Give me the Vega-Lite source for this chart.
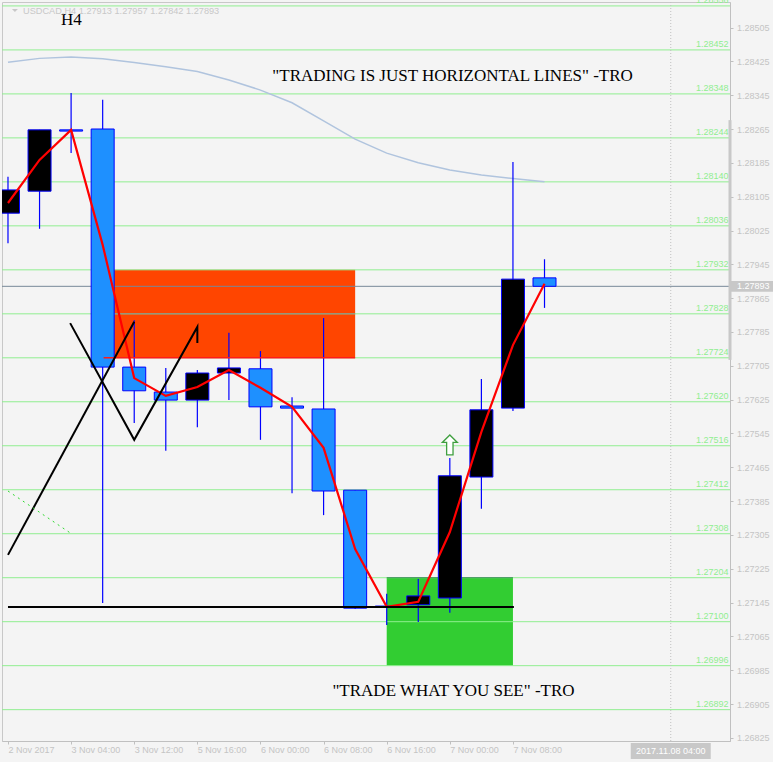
{
  "$schema": "https://vega.github.io/schema/vega-lite/v6.json",
  "width": 728,
  "height": 739,
  "autosize": {"type": "none"},
  "padding": {"left": 2, "top": 2, "right": 43, "bottom": 21},
  "background": "#f4f4f4",
  "config": {
    "view": {"stroke": "#c8c8c8"},
    "axisX": {"grid": false, "domainColor": "#c0c0c0", "tickColor": "#c0c0c0", "tickSize": 3,
      "labelAlign": "left", "labelBaseline": "top", "labelPadding": 1, "labelFont": "Liberation Sans",
      "labelFontSize": 9, "labelColor": "#c4c4c4", "labelFlush": false, "labelOverlap": false, "labelBound": false},
    "axisY": {"grid": false, "domainColor": "#c0c0c0", "tickColor": "#c0c0c0", "tickSize": 3,
      "labelPadding": 3.5, "labelFont": "Liberation Sans", "labelFontSize": 9, "labelColor": "#c4c4c4",
      "labelBaseline": "middle", "labelOverlap": false, "labelBound": false, "labelFlush": false}
  },
  "datasets": {
    "candles": [
      {"i": 0, "o": 1.28066, "h": 1.28152, "l": 1.27995, "c": 1.28121},
      {"i": 1, "o": 1.28118, "h": 1.28263, "l": 1.28029, "c": 1.28263},
      {"i": 2, "o": 1.28263, "h": 1.28350, "l": 1.28208, "c": 1.28260},
      {"i": 3, "o": 1.28265, "h": 1.28334, "l": 1.27144, "c": 1.27702},
      {"i": 4, "o": 1.27702, "h": 1.27813, "l": 1.27570, "c": 1.27646},
      {"i": 5, "o": 1.27643, "h": 1.27700, "l": 1.27504, "c": 1.27624},
      {"i": 6, "o": 1.27624, "h": 1.27695, "l": 1.27560, "c": 1.27688},
      {"i": 7, "o": 1.27688, "h": 1.27783, "l": 1.27624, "c": 1.27700},
      {"i": 8, "o": 1.27698, "h": 1.27740, "l": 1.27530, "c": 1.27608},
      {"i": 9, "o": 1.27610, "h": 1.27631, "l": 1.27404, "c": 1.27605},
      {"i": 10, "o": 1.27603, "h": 1.27818, "l": 1.27352, "c": 1.27409},
      {"i": 11, "o": 1.27411, "h": 1.27411, "l": 1.27130, "c": 1.27132},
      {"i": 12, "o": 1.27137, "h": 1.27166, "l": 1.27092, "c": 1.27135},
      {"i": 13, "o": 1.27140, "h": 1.27201, "l": 1.27099, "c": 1.27161},
      {"i": 14, "o": 1.27156, "h": 1.27487, "l": 1.27121, "c": 1.27445},
      {"i": 15, "o": 1.27442, "h": 1.27674, "l": 1.27367, "c": 1.27601},
      {"i": 16, "o": 1.27605, "h": 1.28187, "l": 1.27598, "c": 1.27910},
      {"i": 17, "o": 1.27913, "h": 1.27957, "l": 1.27842, "c": 1.27893}
    ],
    "fast": [
      {"i": 0, "p": 1.28090}, {"i": 1, "p": 1.28192}, {"i": 2, "p": 1.28263},
      {"i": 3, "p": 1.27991}, {"i": 4, "p": 1.27676}, {"i": 5, "p": 1.27634},
      {"i": 6, "p": 1.27655}, {"i": 7, "p": 1.27695}, {"i": 8, "p": 1.27653},
      {"i": 9, "p": 1.27608}, {"i": 10, "p": 1.27511}, {"i": 11, "p": 1.27272},
      {"i": 12, "p": 1.27135}, {"i": 13, "p": 1.27147}, {"i": 14, "p": 1.27312},
      {"i": 15, "p": 1.27549}, {"i": 16, "p": 1.27754}, {"i": 17, "p": 1.27899}
    ],
    "slow": [
      {"i": 0, "p": 1.28423}, {"i": 1, "p": 1.28432}, {"i": 2, "p": 1.28435},
      {"i": 3, "p": 1.28431}, {"i": 4, "p": 1.28422}, {"i": 5, "p": 1.28412},
      {"i": 6, "p": 1.28401}, {"i": 7, "p": 1.28381}, {"i": 8, "p": 1.28357},
      {"i": 9, "p": 1.28327}, {"i": 10, "p": 1.28284}, {"i": 11, "p": 1.28241},
      {"i": 12, "p": 1.28208}, {"i": 13, "p": 1.28185}, {"i": 14, "p": 1.28168},
      {"i": 15, "p": 1.28156}, {"i": 16, "p": 1.28148}, {"i": 17, "p": 1.28140}
    ],
    "levels": [
      {"p": 1.28556}, {"p": 1.28452}, {"p": 1.28348}, {"p": 1.28244}, {"p": 1.28140},
      {"p": 1.28036}, {"p": 1.27932}, {"p": 1.27828}, {"p": 1.27724}, {"p": 1.27620},
      {"p": 1.27516}, {"p": 1.27412}, {"p": 1.27308}, {"p": 1.27204}, {"p": 1.27100},
      {"p": 1.26996}, {"p": 1.26892}
    ],
    "zones": [
      {"zone": "supply", "i": 3, "i2": 11, "p": 1.27724, "p2": 1.27932},
      {"zone": "demand", "i": 12, "i2": 16, "p": 1.26996, "p2": 1.27204}
    ],
    "edges": [
      {"kind": "inner", "i": 3, "i2": 11, "p": 1.27828},
      {"kind": "top", "i": 12, "i2": 16, "p": 1.27204},
      {"kind": "base", "i": 3.03, "i2": 11, "p": 1.27724}
    ],
    "trend": [
      {"seg": "a", "k": 0, "i": 0, "p": 1.27258},
      {"seg": "a", "k": 1, "i": 4, "p": 1.27809},
      {"seg": "b", "k": 0, "i": 1.97, "p": 1.27806},
      {"seg": "b", "k": 1, "i": 4, "p": 1.27530},
      {"seg": "b", "k": 2, "i": 6, "p": 1.27797},
      {"seg": "b", "k": 3, "i": 6, "p": 1.27759}
    ],
    "dots": [{"i": 0, "p": 1.27409}, {"i": 1.97, "p": 1.27310}],
    "support": [{"i": 0, "i2": 16.03, "p": 1.27135}],
    "signal": [{"i": 14, "p": 1.27518}],
    "notes": [
      {"i": 1.678, "p": 1.28511, "t": "H4"},
      {"i": 8.375, "p": 1.28378, "t": "\"TRADING IS JUST HORIZONTAL LINES\" -TRO"},
      {"i": 10.28, "p": 1.26924, "t": "\"TRADE WHAT YOU SEE\" -TRO"}
    ],
    "header": [{"i": 0.478, "p": 1.28537, "t": "USDCAD,H4  1.27913 1.27957 1.27842 1.27893"}],
    "marker": [{"i": 0.22, "p": 1.28545}],
    "quote": [{"p": 1.27893}],
    "range": [{"p": 1.28286, "p2": 1.27719}],
    "cursor": [{"i": 21, "t": "2017.11.08 04:00"}]
  },
  "layer": [
    {
      "data": {"name": "zones"},
      "mark": {"type": "rect"},
      "encoding": {
        "x": {"field": "i", "type": "quantitative", "title": null, "scale": {"domain": [-0.03125, 22.71875], "nice": false, "zero": false},
          "axis": {"values": [0, 2, 4, 6, 8, 10, 12, 14, 16], "labelExpr": "['2 Nov 2017','3 Nov 04:00','3 Nov 12:00','5 Nov 16:00','6 Nov 00:00','6 Nov 08:00','6 Nov 16:00','7 Nov 00:00','7 Nov 08:00'][round(datum.value / 2)]"}},
        "x2": {"field": "i2"},
        "y": {"field": "p", "type": "quantitative", "title": null, "scale": {"domain": [1.268179, 1.285653], "nice": false, "zero": false},
          "axis": {"orient": "right", "format": ".5f", "values": [1.28505, 1.28425, 1.28345, 1.28265, 1.28185, 1.28105, 1.28025, 1.27945, 1.27865, 1.27785, 1.27705, 1.27625, 1.27545, 1.27465, 1.27385, 1.27305, 1.27225, 1.27145, 1.27065, 1.26985, 1.26905, 1.26825]}},
        "y2": {"field": "p2"},
        "fill": {"field": "zone", "type": "nominal", "scale": {"domain": ["supply", "demand"], "range": ["#ff4500", "#32cd32"]}, "legend": null}
      }
    },
    {
      "data": {"name": "levels"},
      "mark": {"type": "rule", "color": "#90ee90", "strokeWidth": 1},
      "encoding": {
        "y": {"field": "p", "type": "quantitative", "title": null, "scale": {"domain": [1.268179, 1.285653], "nice": false, "zero": false},
          "axis": {"orient": "right", "format": ".5f", "values": [1.28505, 1.28425, 1.28345, 1.28265, 1.28185, 1.28105, 1.28025, 1.27945, 1.27865, 1.27785, 1.27705, 1.27625, 1.27545, 1.27465, 1.27385, 1.27305, 1.27225, 1.27145, 1.27065, 1.26985, 1.26905, 1.26825]}}
      }
    },
    {
      "data": {"name": "edges"},
      "transform": [{"filter": "datum.kind !== 'base'"}],
      "mark": {"type": "rule", "strokeWidth": 1},
      "encoding": {
        "x": {"field": "i", "type": "quantitative", "title": null, "scale": {"domain": [-0.03125, 22.71875], "nice": false, "zero": false},
          "axis": {"values": [0, 2, 4, 6, 8, 10, 12, 14, 16], "labelExpr": "['2 Nov 2017','3 Nov 04:00','3 Nov 12:00','5 Nov 16:00','6 Nov 00:00','6 Nov 08:00','6 Nov 16:00','7 Nov 00:00','7 Nov 08:00'][round(datum.value / 2)]"}},
        "x2": {"field": "i2"},
        "y": {"field": "p", "type": "quantitative", "title": null, "scale": {"domain": [1.268179, 1.285653], "nice": false, "zero": false},
          "axis": {"orient": "right", "format": ".5f", "values": [1.28505, 1.28425, 1.28345, 1.28265, 1.28185, 1.28105, 1.28025, 1.27945, 1.27865, 1.27785, 1.27705, 1.27625, 1.27545, 1.27465, 1.27385, 1.27305, 1.27225, 1.27145, 1.27065, 1.26985, 1.26905, 1.26825]}},
        "color": {"field": "kind", "type": "nominal", "scale": {"domain": ["inner", "top", "base"], "range": ["#8a8a8a", "#3b8d5a", "#ff1a1a"]}, "legend": null}
      }
    },
    {
      "data": {"name": "cursor"},
      "mark": {"type": "rule", "color": "#c0c0c0", "strokeWidth": 1, "strokeDash": [1, 2]},
      "encoding": {
        "x": {"field": "i", "type": "quantitative", "title": null, "scale": {"domain": [-0.03125, 22.71875], "nice": false, "zero": false},
          "axis": {"values": [0, 2, 4, 6, 8, 10, 12, 14, 16], "labelExpr": "['2 Nov 2017','3 Nov 04:00','3 Nov 12:00','5 Nov 16:00','6 Nov 00:00','6 Nov 08:00','6 Nov 16:00','7 Nov 00:00','7 Nov 08:00'][round(datum.value / 2)]"}}
      }
    },
    {
      "data": {"name": "slow"},
      "mark": {"type": "line", "color": "#b0c4de", "strokeWidth": 1.5},
      "encoding": {
        "x": {"field": "i", "type": "quantitative", "title": null, "scale": {"domain": [-0.03125, 22.71875], "nice": false, "zero": false},
          "axis": {"values": [0, 2, 4, 6, 8, 10, 12, 14, 16], "labelExpr": "['2 Nov 2017','3 Nov 04:00','3 Nov 12:00','5 Nov 16:00','6 Nov 00:00','6 Nov 08:00','6 Nov 16:00','7 Nov 00:00','7 Nov 08:00'][round(datum.value / 2)]"}},
        "y": {"field": "p", "type": "quantitative", "title": null, "scale": {"domain": [1.268179, 1.285653], "nice": false, "zero": false},
          "axis": {"orient": "right", "format": ".5f", "values": [1.28505, 1.28425, 1.28345, 1.28265, 1.28185, 1.28105, 1.28025, 1.27945, 1.27865, 1.27785, 1.27705, 1.27625, 1.27545, 1.27465, 1.27385, 1.27305, 1.27225, 1.27145, 1.27065, 1.26985, 1.26905, 1.26825]}}
      }
    },
    {
      "data": {"name": "quote"},
      "mark": {"type": "rule", "color": "#778899", "strokeWidth": 1},
      "encoding": {
        "y": {"field": "p", "type": "quantitative", "title": null, "scale": {"domain": [1.268179, 1.285653], "nice": false, "zero": false},
          "axis": {"orient": "right", "format": ".5f", "values": [1.28505, 1.28425, 1.28345, 1.28265, 1.28185, 1.28105, 1.28025, 1.27945, 1.27865, 1.27785, 1.27705, 1.27625, 1.27545, 1.27465, 1.27385, 1.27305, 1.27225, 1.27145, 1.27065, 1.26985, 1.26905, 1.26825]}}
      }
    },
    {
      "data": {"name": "candles"},
      "mark": {"type": "rule", "color": "#0000ff", "strokeWidth": 1.2, "clip": true},
      "encoding": {
        "x": {"field": "i", "type": "quantitative", "title": null, "scale": {"domain": [-0.03125, 22.71875], "nice": false, "zero": false},
          "axis": {"values": [0, 2, 4, 6, 8, 10, 12, 14, 16], "labelExpr": "['2 Nov 2017','3 Nov 04:00','3 Nov 12:00','5 Nov 16:00','6 Nov 00:00','6 Nov 08:00','6 Nov 16:00','7 Nov 00:00','7 Nov 08:00'][round(datum.value / 2)]"}},
        "y": {"field": "l", "type": "quantitative", "title": null, "scale": {"domain": [1.268179, 1.285653], "nice": false, "zero": false},
          "axis": {"orient": "right", "format": ".5f", "values": [1.28505, 1.28425, 1.28345, 1.28265, 1.28185, 1.28105, 1.28025, 1.27945, 1.27865, 1.27785, 1.27705, 1.27625, 1.27545, 1.27465, 1.27385, 1.27305, 1.27225, 1.27145, 1.27065, 1.26985, 1.26905, 1.26825]}},
        "y2": {"field": "h"}
      }
    },
    {
      "data": {"name": "candles"},
      "mark": {"type": "bar", "size": 23, "stroke": "#0000ff", "strokeWidth": 1, "clip": true},
      "encoding": {
        "x": {"field": "i", "type": "quantitative", "title": null, "scale": {"domain": [-0.03125, 22.71875], "nice": false, "zero": false},
          "axis": {"values": [0, 2, 4, 6, 8, 10, 12, 14, 16], "labelExpr": "['2 Nov 2017','3 Nov 04:00','3 Nov 12:00','5 Nov 16:00','6 Nov 00:00','6 Nov 08:00','6 Nov 16:00','7 Nov 00:00','7 Nov 08:00'][round(datum.value / 2)]"}},
        "y": {"field": "o", "type": "quantitative", "title": null, "scale": {"domain": [1.268179, 1.285653], "nice": false, "zero": false},
          "axis": {"orient": "right", "format": ".5f", "values": [1.28505, 1.28425, 1.28345, 1.28265, 1.28185, 1.28105, 1.28025, 1.27945, 1.27865, 1.27785, 1.27705, 1.27625, 1.27545, 1.27465, 1.27385, 1.27305, 1.27225, 1.27145, 1.27065, 1.26985, 1.26905, 1.26825]}},
        "y2": {"field": "c"},
        "fill": {"condition": {"test": "datum.c > datum.o", "value": "#000000"}, "value": "#1e90ff"}
      }
    },
    {
      "data": {"name": "edges"},
      "transform": [{"filter": "datum.kind === 'base'"}],
      "mark": {"type": "rule", "strokeWidth": 1.5},
      "encoding": {
        "x": {"field": "i", "type": "quantitative", "title": null, "scale": {"domain": [-0.03125, 22.71875], "nice": false, "zero": false},
          "axis": {"values": [0, 2, 4, 6, 8, 10, 12, 14, 16], "labelExpr": "['2 Nov 2017','3 Nov 04:00','3 Nov 12:00','5 Nov 16:00','6 Nov 00:00','6 Nov 08:00','6 Nov 16:00','7 Nov 00:00','7 Nov 08:00'][round(datum.value / 2)]"}},
        "x2": {"field": "i2"},
        "y": {"field": "p", "type": "quantitative", "title": null, "scale": {"domain": [1.268179, 1.285653], "nice": false, "zero": false},
          "axis": {"orient": "right", "format": ".5f", "values": [1.28505, 1.28425, 1.28345, 1.28265, 1.28185, 1.28105, 1.28025, 1.27945, 1.27865, 1.27785, 1.27705, 1.27625, 1.27545, 1.27465, 1.27385, 1.27305, 1.27225, 1.27145, 1.27065, 1.26985, 1.26905, 1.26825]}},
        "color": {"field": "kind", "type": "nominal", "scale": {"domain": ["inner", "top", "base"], "range": ["#8a8a8a", "#3b8d5a", "#ff1a1a"]}, "legend": null}
      }
    },
    {
      "data": {"name": "fast"},
      "mark": {"type": "line", "color": "#ff0000", "strokeWidth": 2.2},
      "encoding": {
        "x": {"field": "i", "type": "quantitative", "title": null, "scale": {"domain": [-0.03125, 22.71875], "nice": false, "zero": false},
          "axis": {"values": [0, 2, 4, 6, 8, 10, 12, 14, 16], "labelExpr": "['2 Nov 2017','3 Nov 04:00','3 Nov 12:00','5 Nov 16:00','6 Nov 00:00','6 Nov 08:00','6 Nov 16:00','7 Nov 00:00','7 Nov 08:00'][round(datum.value / 2)]"}},
        "y": {"field": "p", "type": "quantitative", "title": null, "scale": {"domain": [1.268179, 1.285653], "nice": false, "zero": false},
          "axis": {"orient": "right", "format": ".5f", "values": [1.28505, 1.28425, 1.28345, 1.28265, 1.28185, 1.28105, 1.28025, 1.27945, 1.27865, 1.27785, 1.27705, 1.27625, 1.27545, 1.27465, 1.27385, 1.27305, 1.27225, 1.27145, 1.27065, 1.26985, 1.26905, 1.26825]}}
      }
    },
    {
      "data": {"name": "trend"},
      "mark": {"type": "line", "color": "#000000", "strokeWidth": 2},
      "encoding": {
        "x": {"field": "i", "type": "quantitative", "title": null, "scale": {"domain": [-0.03125, 22.71875], "nice": false, "zero": false},
          "axis": {"values": [0, 2, 4, 6, 8, 10, 12, 14, 16], "labelExpr": "['2 Nov 2017','3 Nov 04:00','3 Nov 12:00','5 Nov 16:00','6 Nov 00:00','6 Nov 08:00','6 Nov 16:00','7 Nov 00:00','7 Nov 08:00'][round(datum.value / 2)]"}},
        "y": {"field": "p", "type": "quantitative", "title": null, "scale": {"domain": [1.268179, 1.285653], "nice": false, "zero": false},
          "axis": {"orient": "right", "format": ".5f", "values": [1.28505, 1.28425, 1.28345, 1.28265, 1.28185, 1.28105, 1.28025, 1.27945, 1.27865, 1.27785, 1.27705, 1.27625, 1.27545, 1.27465, 1.27385, 1.27305, 1.27225, 1.27145, 1.27065, 1.26985, 1.26905, 1.26825]}},
        "detail": {"field": "seg", "type": "nominal"},
        "order": {"field": "k", "type": "quantitative"}
      }
    },
    {
      "data": {"name": "dots"},
      "mark": {"type": "line", "color": "#2fd82f", "strokeWidth": 1, "strokeDash": [2, 4]},
      "encoding": {
        "x": {"field": "i", "type": "quantitative", "title": null, "scale": {"domain": [-0.03125, 22.71875], "nice": false, "zero": false},
          "axis": {"values": [0, 2, 4, 6, 8, 10, 12, 14, 16], "labelExpr": "['2 Nov 2017','3 Nov 04:00','3 Nov 12:00','5 Nov 16:00','6 Nov 00:00','6 Nov 08:00','6 Nov 16:00','7 Nov 00:00','7 Nov 08:00'][round(datum.value / 2)]"}},
        "y": {"field": "p", "type": "quantitative", "title": null, "scale": {"domain": [1.268179, 1.285653], "nice": false, "zero": false},
          "axis": {"orient": "right", "format": ".5f", "values": [1.28505, 1.28425, 1.28345, 1.28265, 1.28185, 1.28105, 1.28025, 1.27945, 1.27865, 1.27785, 1.27705, 1.27625, 1.27545, 1.27465, 1.27385, 1.27305, 1.27225, 1.27145, 1.27065, 1.26985, 1.26905, 1.26825]}}
      }
    },
    {
      "data": {"name": "support"},
      "mark": {"type": "rule", "color": "#000000", "strokeWidth": 2},
      "encoding": {
        "x": {"field": "i", "type": "quantitative", "title": null, "scale": {"domain": [-0.03125, 22.71875], "nice": false, "zero": false},
          "axis": {"values": [0, 2, 4, 6, 8, 10, 12, 14, 16], "labelExpr": "['2 Nov 2017','3 Nov 04:00','3 Nov 12:00','5 Nov 16:00','6 Nov 00:00','6 Nov 08:00','6 Nov 16:00','7 Nov 00:00','7 Nov 08:00'][round(datum.value / 2)]"}},
        "x2": {"field": "i2"},
        "y": {"field": "p", "type": "quantitative", "title": null, "scale": {"domain": [1.268179, 1.285653], "nice": false, "zero": false},
          "axis": {"orient": "right", "format": ".5f", "values": [1.28505, 1.28425, 1.28345, 1.28265, 1.28185, 1.28105, 1.28025, 1.27945, 1.27865, 1.27785, 1.27705, 1.27625, 1.27545, 1.27465, 1.27385, 1.27305, 1.27225, 1.27145, 1.27065, 1.26985, 1.26905, 1.26825]}}
      }
    },
    {
      "data": {"name": "signal"},
      "mark": {"type": "point", "shape": "M0,-1L0.75,-0.25L0.32,-0.25L0.32,1L-0.32,1L-0.32,-0.25L-0.75,-0.25Z", "size": 400, "filled": true, "fill": "#ffffff", "stroke": "#3f9f3f", "strokeWidth": 1.3, "opacity": 1},
      "encoding": {
        "x": {"field": "i", "type": "quantitative", "title": null, "scale": {"domain": [-0.03125, 22.71875], "nice": false, "zero": false},
          "axis": {"values": [0, 2, 4, 6, 8, 10, 12, 14, 16], "labelExpr": "['2 Nov 2017','3 Nov 04:00','3 Nov 12:00','5 Nov 16:00','6 Nov 00:00','6 Nov 08:00','6 Nov 16:00','7 Nov 00:00','7 Nov 08:00'][round(datum.value / 2)]"}},
        "y": {"field": "p", "type": "quantitative", "title": null, "scale": {"domain": [1.268179, 1.285653], "nice": false, "zero": false},
          "axis": {"orient": "right", "format": ".5f", "values": [1.28505, 1.28425, 1.28345, 1.28265, 1.28185, 1.28105, 1.28025, 1.27945, 1.27865, 1.27785, 1.27705, 1.27625, 1.27545, 1.27465, 1.27385, 1.27305, 1.27225, 1.27145, 1.27065, 1.26985, 1.26905, 1.26825]}}
      }
    },
    {
      "data": {"name": "levels"},
      "mark": {"type": "text", "x": "width", "dx": -1.5, "dy": -2.5, "align": "right", "baseline": "alphabetic", "font": "Liberation Sans", "fontSize": 9, "color": "#90ee90"},
      "encoding": {
        "y": {"field": "p", "type": "quantitative", "title": null, "scale": {"domain": [1.268179, 1.285653], "nice": false, "zero": false},
          "axis": {"orient": "right", "format": ".5f", "values": [1.28505, 1.28425, 1.28345, 1.28265, 1.28185, 1.28105, 1.28025, 1.27945, 1.27865, 1.27785, 1.27705, 1.27625, 1.27545, 1.27465, 1.27385, 1.27305, 1.27225, 1.27145, 1.27065, 1.26985, 1.26905, 1.26825]}},
        "text": {"field": "p", "type": "quantitative", "format": ".5f"}
      }
    },
    {
      "data": {"name": "notes"},
      "mark": {"type": "text", "align": "left", "baseline": "alphabetic", "font": "Liberation Serif", "fontSize": 17, "color": "#000000"},
      "encoding": {
        "x": {"field": "i", "type": "quantitative", "title": null, "scale": {"domain": [-0.03125, 22.71875], "nice": false, "zero": false},
          "axis": {"values": [0, 2, 4, 6, 8, 10, 12, 14, 16], "labelExpr": "['2 Nov 2017','3 Nov 04:00','3 Nov 12:00','5 Nov 16:00','6 Nov 00:00','6 Nov 08:00','6 Nov 16:00','7 Nov 00:00','7 Nov 08:00'][round(datum.value / 2)]"}},
        "y": {"field": "p", "type": "quantitative", "title": null, "scale": {"domain": [1.268179, 1.285653], "nice": false, "zero": false},
          "axis": {"orient": "right", "format": ".5f", "values": [1.28505, 1.28425, 1.28345, 1.28265, 1.28185, 1.28105, 1.28025, 1.27945, 1.27865, 1.27785, 1.27705, 1.27625, 1.27545, 1.27465, 1.27385, 1.27305, 1.27225, 1.27145, 1.27065, 1.26985, 1.26905, 1.26825]}},
        "text": {"field": "t"}
      }
    },
    {
      "data": {"name": "header"},
      "mark": {"type": "text", "align": "left", "baseline": "alphabetic", "font": "Liberation Sans", "fontSize": 9.2, "color": "#c8c8c8"},
      "encoding": {
        "x": {"field": "i", "type": "quantitative", "title": null, "scale": {"domain": [-0.03125, 22.71875], "nice": false, "zero": false},
          "axis": {"values": [0, 2, 4, 6, 8, 10, 12, 14, 16], "labelExpr": "['2 Nov 2017','3 Nov 04:00','3 Nov 12:00','5 Nov 16:00','6 Nov 00:00','6 Nov 08:00','6 Nov 16:00','7 Nov 00:00','7 Nov 08:00'][round(datum.value / 2)]"}},
        "y": {"field": "p", "type": "quantitative", "title": null, "scale": {"domain": [1.268179, 1.285653], "nice": false, "zero": false},
          "axis": {"orient": "right", "format": ".5f", "values": [1.28505, 1.28425, 1.28345, 1.28265, 1.28185, 1.28105, 1.28025, 1.27945, 1.27865, 1.27785, 1.27705, 1.27625, 1.27545, 1.27465, 1.27385, 1.27305, 1.27225, 1.27145, 1.27065, 1.26985, 1.26905, 1.26825]}},
        "text": {"field": "t"}
      }
    },
    {
      "data": {"name": "marker"},
      "mark": {"type": "point", "shape": "M-1,-0.5H1L0,0.5Z", "size": 36, "filled": true, "fill": "#c8c8c8", "strokeWidth": 0, "opacity": 1},
      "encoding": {
        "x": {"field": "i", "type": "quantitative", "title": null, "scale": {"domain": [-0.03125, 22.71875], "nice": false, "zero": false},
          "axis": {"values": [0, 2, 4, 6, 8, 10, 12, 14, 16], "labelExpr": "['2 Nov 2017','3 Nov 04:00','3 Nov 12:00','5 Nov 16:00','6 Nov 00:00','6 Nov 08:00','6 Nov 16:00','7 Nov 00:00','7 Nov 08:00'][round(datum.value / 2)]"}},
        "y": {"field": "p", "type": "quantitative", "title": null, "scale": {"domain": [1.268179, 1.285653], "nice": false, "zero": false},
          "axis": {"orient": "right", "format": ".5f", "values": [1.28505, 1.28425, 1.28345, 1.28265, 1.28185, 1.28105, 1.28025, 1.27945, 1.27865, 1.27785, 1.27705, 1.27625, 1.27545, 1.27465, 1.27385, 1.27305, 1.27225, 1.27145, 1.27065, 1.26985, 1.26905, 1.26825]}}
      }
    },
    {
      "data": {"name": "range"},
      "mark": {"type": "rule", "x": "width", "color": "#c8c8c8", "strokeWidth": 3},
      "encoding": {
        "y": {"field": "p", "type": "quantitative", "title": null, "scale": {"domain": [1.268179, 1.285653], "nice": false, "zero": false},
          "axis": {"orient": "right", "format": ".5f", "values": [1.28505, 1.28425, 1.28345, 1.28265, 1.28185, 1.28105, 1.28025, 1.27945, 1.27865, 1.27785, 1.27705, 1.27625, 1.27545, 1.27465, 1.27385, 1.27305, 1.27225, 1.27145, 1.27065, 1.26985, 1.26905, 1.26825]}},
        "y2": {"field": "p2"}
      }
    },
    {
      "data": {"name": "quote"},
      "mark": {"type": "point", "x": "width", "shape": "M0,-0.25H2V0.25H0Z", "size": 1849, "filled": true, "fill": "#c8c8c8", "strokeWidth": 0, "opacity": 1},
      "encoding": {
        "y": {"field": "p", "type": "quantitative", "title": null, "scale": {"domain": [1.268179, 1.285653], "nice": false, "zero": false},
          "axis": {"orient": "right", "format": ".5f", "values": [1.28505, 1.28425, 1.28345, 1.28265, 1.28185, 1.28105, 1.28025, 1.27945, 1.27865, 1.27785, 1.27705, 1.27625, 1.27545, 1.27465, 1.27385, 1.27305, 1.27225, 1.27145, 1.27065, 1.26985, 1.26905, 1.26825]}}
      }
    },
    {
      "data": {"name": "quote"},
      "mark": {"type": "text", "x": "width", "dx": 7, "align": "left", "baseline": "middle", "font": "Liberation Sans", "fontSize": 9, "color": "#ffffff"},
      "encoding": {
        "y": {"field": "p", "type": "quantitative", "title": null, "scale": {"domain": [1.268179, 1.285653], "nice": false, "zero": false},
          "axis": {"orient": "right", "format": ".5f", "values": [1.28505, 1.28425, 1.28345, 1.28265, 1.28185, 1.28105, 1.28025, 1.27945, 1.27865, 1.27785, 1.27705, 1.27625, 1.27545, 1.27465, 1.27385, 1.27305, 1.27225, 1.27145, 1.27065, 1.26985, 1.26905, 1.26825]}},
        "text": {"field": "p", "type": "quantitative", "format": ".5f"}
      }
    },
    {
      "data": {"name": "cursor"},
      "mark": {"type": "point", "y": "height", "shape": "M-1,0.05H1V0.45H-1Z", "size": 6400, "filled": true, "fill": "#c8c8c8", "strokeWidth": 0, "opacity": 1},
      "encoding": {
        "x": {"field": "i", "type": "quantitative", "title": null, "scale": {"domain": [-0.03125, 22.71875], "nice": false, "zero": false},
          "axis": {"values": [0, 2, 4, 6, 8, 10, 12, 14, 16], "labelExpr": "['2 Nov 2017','3 Nov 04:00','3 Nov 12:00','5 Nov 16:00','6 Nov 00:00','6 Nov 08:00','6 Nov 16:00','7 Nov 00:00','7 Nov 08:00'][round(datum.value / 2)]"}}
      }
    },
    {
      "data": {"name": "cursor"},
      "mark": {"type": "text", "y": "height", "dy": 10, "align": "center", "baseline": "middle", "font": "Liberation Sans", "fontSize": 9, "color": "#ffffff"},
      "encoding": {
        "x": {"field": "i", "type": "quantitative", "title": null, "scale": {"domain": [-0.03125, 22.71875], "nice": false, "zero": false},
          "axis": {"values": [0, 2, 4, 6, 8, 10, 12, 14, 16], "labelExpr": "['2 Nov 2017','3 Nov 04:00','3 Nov 12:00','5 Nov 16:00','6 Nov 00:00','6 Nov 08:00','6 Nov 16:00','7 Nov 00:00','7 Nov 08:00'][round(datum.value / 2)]"}},
        "text": {"field": "t"}
      }
    }
  ]
}
